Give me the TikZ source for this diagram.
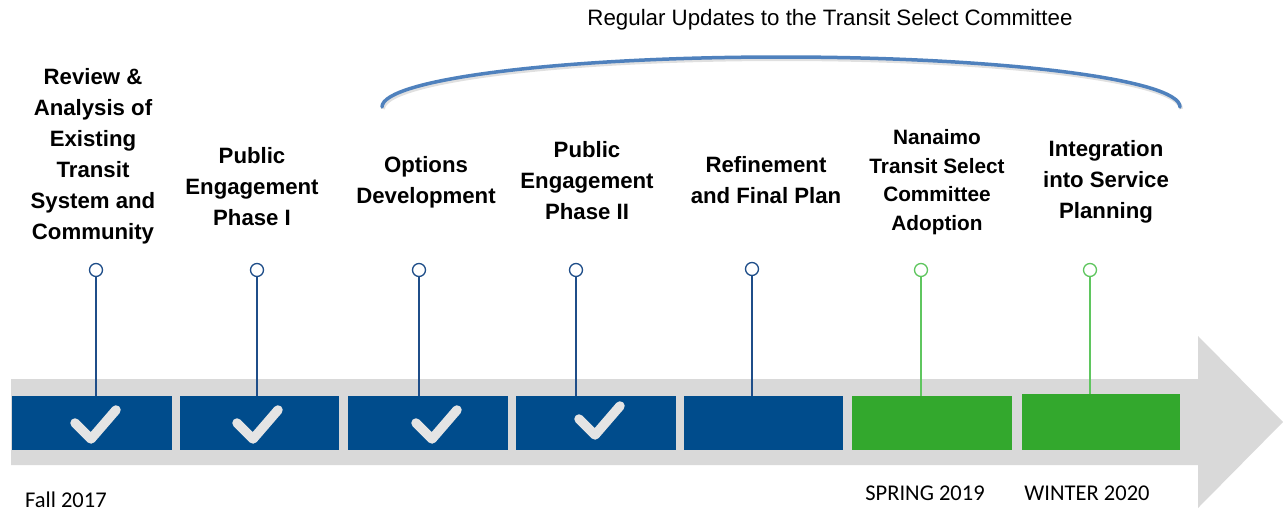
\documentclass[tikz,border=0pt]{standalone}
\usepackage{fontspec}
\setmainfont{Liberation Sans}
\newfontfamily\datefont{Carlito}
\usepackage{tikz}

\definecolor{phaseblue}{RGB}{0,76,140}
\definecolor{phasegreen}{RGB}{51,168,45}
\definecolor{bandgray}{RGB}{217,217,217}
\definecolor{arcblue}{RGB}{79,129,189}
\definecolor{pinblue}{RGB}{31,78,137}
\definecolor{pingreen}{RGB}{95,198,95}
\definecolor{tickgray}{RGB}{228,228,228}

\begin{document}
\begin{tikzpicture}[x=1pt,y=-1pt,
    phasetext/.style={align=center,inner sep=0pt,font=\bfseries\fontsize{22.2}{31}\selectfont},
    phasebox/.style={rectangle,inner sep=0pt,minimum width=160pt,minimum height=54pt,fill=phaseblue},
    greenbox/.style={phasebox,fill=phasegreen},
    pin/.style={circle,draw=pinblue,line width=1.3pt,minimum size=13pt,inner sep=0pt,fill=white},
    greenpin/.style={pin,draw=pingreen},
    pinline/.style={pinblue,line width=1.1pt},
    greenline/.style={pingreen,line width=1.1pt},
    tick/.style={tickgray,line width=9.5pt,line cap=round,line join=round},
    datetext/.style={inner sep=0pt,font=\datefont\fontsize{22.5}{26}\selectfont}]
    \useasboundingbox (0,0) rectangle (1283,512);

    % band and arrow head
    \fill [bandgray] (11,379) -- (1198,379) -- (1198,336) -- (1283,422) -- (1198,508) -- (1198,465) -- (11,465) -- cycle;

    % phases
    \node [phasebox] (b1) at (92,423) {};
    \node [phasebox, minimum width=159pt] (b2) at (259.5,423) {};
    \node [phasebox] (b3) at (428,423) {};
    \node [phasebox] (b4) at (596,423) {};
    \node [phasebox, minimum width=159pt] (b5) at (763.5,423) {};
    \node [greenbox] (b6) at (932,423) {};
    \node [greenbox, minimum width=158pt, minimum height=56pt] (b7) at (1101,422) {};

    % ticks
    \draw [tick] (75,423) -- (91,439) -- (116,410);
    \draw [tick] (237,423) -- (253,439) -- (278,410);
    \draw [tick] (416,423) -- (432,439) -- (457,410);
    \draw [tick] (579,419) -- (595,435) -- (620,406);

    % pins
    \node [pin] (p1) at (96,270) {};
    \node [pin] (p2) at (257,270) {};
    \node [pin] (p3) at (419,270) {};
    \node [pin] (p4) at (576,270) {};
    \node [pin] (p5) at (752,269) {};
    \node [greenpin] (p6) at (921,270) {};
    \node [greenpin] (p7) at (1090,270) {};
    \draw [pinline] (p1) -- (p1 |- b1.north);
    \draw [pinline] (p2) -- (p2 |- b2.north);
    \draw [pinline] (p3) -- (p3 |- b3.north);
    \draw [pinline] (p4) -- (p4 |- b4.north);
    \draw [pinline] (p5) -- (p5 |- b5.north);
    \draw [greenline] (p6) -- (p6 |- b6.north);
    \draw [greenline] (p7) -- (p7 |- b7.north);

    % phase names
    \node [phasetext] (t1) at (93,156) {Review \&\\Analysis of\\Existing\\Transit\\System and\\Community};
    \node [phasetext] (t2) at (252,187) {Public\\Engagement\\Phase I};
    \node [phasetext] (t3) at (426,182) {Options\\Development};
    \node [phasetext] (t4) at (587,181) {Public\\Engagement\\Phase II};
    \node [phasetext] (t5) at (766,180) {Refinement\\and Final Plan};
    \node [phasetext, font=\bfseries\fontsize{20.8}{28.7}\selectfont] (t6) at (937,182) {Nanaimo\\Transit Select\\Committee\\Adoption};
    \node [phasetext] (t7) at (1106,182) {Integration\\into Service\\Planning};

    % updates arc
    \draw [black, opacity=0.12, line width=4pt] (383,109) arc [start angle=180, end angle=0, x radius=399pt, y radius=50pt];
    \draw [arcblue, line width=3.5pt, line cap=round] (382,107) arc [start angle=180, end angle=0, x radius=399pt, y radius=50pt];
    \node [inner sep=0pt, font=\fontsize{22.3}{26}\selectfont] (upd) at (830,20) {Regular Updates to the Transit Select Committee};

    % dates
    \node [datetext, anchor=west] (d1) at (25,500) {Fall 2017};
    \node [datetext] (d2) at (925,493) {SPRING 2019};
    \node [datetext] (d3) at (1087,493) {WINTER 2020};
\end{tikzpicture}
\end{document}
